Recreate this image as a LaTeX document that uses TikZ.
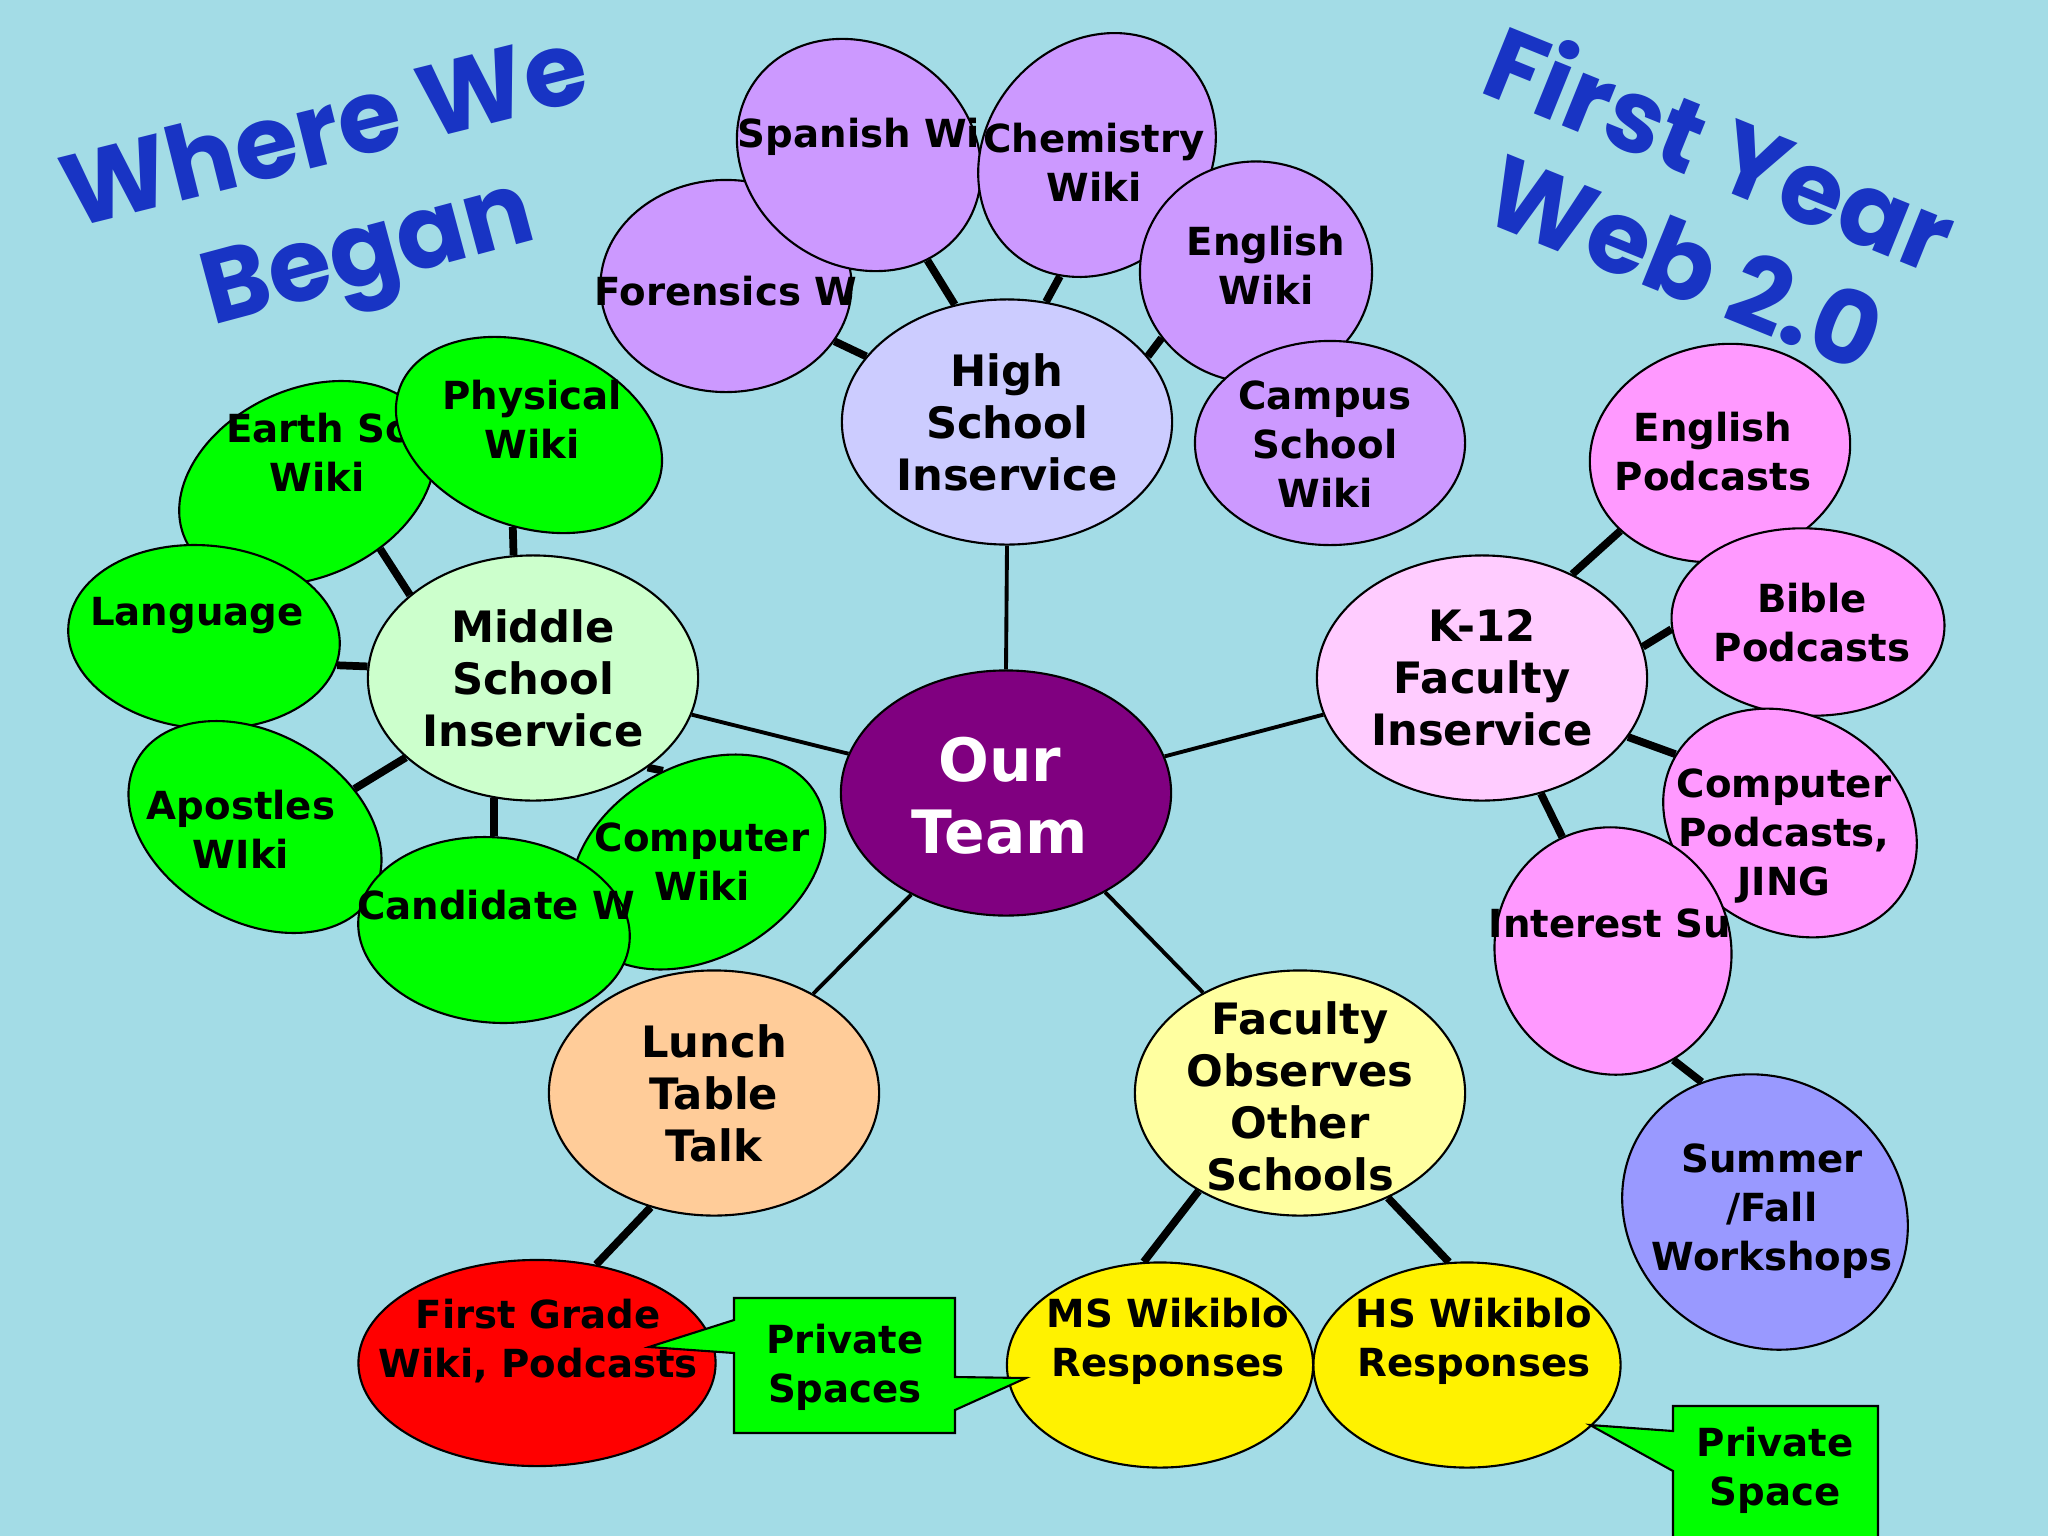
\documentclass[tikz,border=0pt]{standalone}
\usepackage{fontspec}
\setmainfont{DejaVu Sans}
\newfontfamily\titlefont{Poppins}
\usetikzlibrary{shapes.geometric}

\definecolor{water}{RGB}{163,220,230}
\definecolor{titleblue}{RGB}{24,52,196}
\definecolor{teampurple}{RGB}{128,0,128}
\definecolor{hslight}{RGB}{204,204,255}
\definecolor{hsviolet}{RGB}{204,153,255}
\definecolor{mslight}{RGB}{204,255,204}
\definecolor{msgreen}{RGB}{0,255,0}
\definecolor{klight}{RGB}{255,204,255}
\definecolor{kpink}{RGB}{255,153,255}
\definecolor{periwinkle}{RGB}{153,153,255}
\definecolor{peach}{RGB}{255,204,153}
\definecolor{paleyellow}{RGB}{255,255,160}

\pgfdeclarelayer{background}
\pgfsetlayers{background,main}

\begin{document}
\begin{tikzpicture}[x=0.01cm, y=-0.01cm,
        bub/.style={ellipse, draw=black, line width=0.6pt, inner sep=0pt},
        mainbub/.style={bub, minimum width=3.3cm, minimum height=2.45cm},
        hssat/.style={bub, fill=hsviolet},
        mssat/.style={bub, fill=msgreen},
        ksat/.style={bub, fill=kpink},
        lbl/.style={align=center, inner sep=0pt, font=\fontsize{11}{13.9}\selectfont\bfseries},
        mainlbl/.style={lbl, font=\fontsize{12.3}{14.8}\selectfont\bfseries},
        link/.style={line width=1.1pt},
        stub/.style={line width=2.2pt},
        callout/.style={fill=msgreen, draw=black, line width=0.6pt},
        titletxt/.style={text=titleblue, inner sep=0pt, font=\titlefont\bfseries\fontsize{29}{31}\selectfont}
    ]
        \useasboundingbox (0,0) rectangle (2048,1536);
        \begin{pgfonlayer}{background}
            \fill[water] (0,0) rectangle (2048,1536);
        \end{pgfonlayer}
        \clip (0,0) rectangle (2048,1536);

        % High school wikis
        \node[hssat, minimum width=2.51cm, minimum height=2.12cm] (forensics) at (726,286) {};
        \node[lbl] (forensicst) at (726,291) {Forensics W};
        \node[hssat, minimum width=2.55cm, minimum height=2.2cm, rotate=-35] (spanish) at (859,155) {};
        \node[lbl] (spanisht) at (859,137) {Spanish Wi};
        \node[hssat, minimum width=2.58cm, minimum height=2.22cm, rotate=50] (chem) at (1097,155) {};
        \node[lbl] (chemt) at (1094,162) {Chemistry\\Wiki};
        \node[hssat, minimum width=2.32cm, minimum height=2.21cm] (engwiki) at (1256,272) {};
        \node[lbl] (engwikit) at (1266,265) {English\\Wiki};
        \node[hssat, minimum width=2.7cm, minimum height=2.04cm] (campus) at (1330,443) {};
        \node[lbl] (campust) at (1325,444) {Campus\\School\\Wiki};
        \node[mainbub, fill=hslight] (hs) at (1007,422) {};
        \node[mainlbl] (hst) at (hs) {High\\School\\Inservice};

        % Middle school wikis
        \node[mssat, minimum width=2.68cm, minimum height=1.87cm, rotate=25] (earth) at (307,483) {};
        \node[lbl] (eartht) at (317,452) {Earth Sc\\Wiki};
        \node[mssat, minimum width=2.75cm, minimum height=1.83cm, rotate=-20] (phys) at (529,435) {};
        \node[lbl] (physt) at (532,419) {Physical\\Wiki};
        \node[mssat, minimum width=2.72cm, minimum height=1.83cm, rotate=-5] (lang) at (204,637) {};
        \node[lbl] (langt) at (197,616) {Language};
        \node[mssat, minimum width=2.71cm, minimum height=1.88cm, rotate=-30] (apostles) at (255,827) {};
        \node[lbl] (apostlest) at (241,829) {Apostles\\WIki};
        \node[mssat, minimum width=2.72cm, minimum height=1.92cm, rotate=30] (compwiki) at (698,862) {};
        \node[lbl] (compwikit) at (702,862) {Computer\\Wiki};
        \node[mssat, minimum width=2.72cm, minimum height=1.85cm, rotate=-5] (cand) at (494,930) {};
        \node[lbl] (candt) at (496,905) {Candidate W};
        \node[mainbub, fill=mslight] (ms) at (533,678) {};
        \node[mainlbl] (mst) at (ms) {Middle\\School\\Inservice};

        % K-12 podcasts
        \node[ksat, minimum width=2.62cm, minimum height=2.16cm, rotate=12] (engpod) at (1720,453) {};
        \node[lbl] (engpodt) at (1713,452) {English\\Podcasts};
        \node[ksat, minimum width=2.73cm, minimum height=1.87cm, rotate=-3] (bible) at (1808,622) {};
        \node[lbl] (biblet) at (1812,623) {Bible\\Podcasts};
        \node[ksat, minimum width=2.65cm, minimum height=2.15cm, rotate=-30] (comppod) at (1790,823) {};
        \node[lbl] (comppodt) at (1784,836) {Computer\\Podcasts,\\JING};
        \node[ksat, minimum width=2.36cm, minimum height=2.48cm, rotate=15] (interest) at (1613,951) {};
        \node[lbl] (interestt) at (1610,923) {Interest Su};
        \node[bub, fill=periwinkle, minimum width=2.95cm, minimum height=2.65cm, rotate=-35] (summer) at (1765,1212) {};
        \node[lbl] (summert) at (1772,1211) {Summer\\/Fall\\Workshops};
        \node[mainbub, fill=klight] (k12) at (1482,678) {};
        \node[mainlbl] (k12t) at (k12) {K-12\\Faculty\\Inservice};

        % Centre and lower branches
        \node[mainbub, fill=teampurple] (team) at (1006,793) {};
        \node[lbl, text=white, font=\fontsize{17}{20.5}\selectfont\bfseries] (teamt) at (1000,796) {Our\\Team};
        \node[mainbub, fill=peach] (lunch) at (714,1093) {};
        \node[mainlbl] (luncht) at (lunch) {Lunch\\Table\\Talk};
        \node[mainbub, fill=paleyellow] (fac) at (1300,1093) {};
        \node[mainlbl] (fact) at (1300,1096) {Faculty\\Observes\\Other\\Schools};
        \node[bub, fill=red, minimum width=3.57cm, minimum height=2.06cm] (first) at (537,1363) {};
        \node[lbl] (firstt) at (538,1341) {First Grade\\Wiki, Podcasts};
        \node[bub, fill=yellow, minimum width=3.06cm, minimum height=2.05cm] (msresp) at (1160,1365) {};
        \node[lbl] (msrespt) at (1168,1341) {MS Wikiblo\\Responses};
        \node[bub, fill=yellow, minimum width=3.07cm, minimum height=2.05cm] (hsresp) at (1467,1365) {};
        \node[lbl] (hsrespt) at (1474,1341) {HS Wikiblo\\Responses};

        % Callouts
        \coordinate (tipfirst) at (649,1347);
        \coordinate (tipms) at (1026,1378);
        \coordinate (tiphs) at (1590,1425);
        \draw[callout] (734,1298) -- (955,1298) -- (955,1377) -- (tipms) -- (955,1410)
            -- (955,1433) -- (734,1433) -- (734,1353) -- (tipfirst) -- (734,1320) -- cycle;
        \node[lbl] (privspaces) at (845,1367) {Private\\Spaces};
        \draw[callout] (1673,1406) -- (1878,1406) -- (1878,1560) -- (1673,1560)
            -- (1673,1471) -- (tiphs) -- (1673,1431) -- cycle;
        \node[lbl] (privspace) at (1775,1470) {Private\\Space};

        % Connections
        \begin{pgfonlayer}{background}
            \draw[link] (hs.270) -- (team.90);
            \draw[link] (ms.347) -- (team.166);
            \draw[link] (k12.193) -- (team.13);
            \draw[link] (lunch.45) -- (team.227);
            \draw[link] (fac.134) -- (team.315);
            \draw[stub] (lunch.241) -- (first.59);
            \draw[stub] (fac.224) -- (msresp.99);
            \draw[stub] (fac.310) -- (hsresp.100);
            \draw[stub] (forensics.333) -- (hs.155);
            \draw[stub] (spanish.338) -- (hs.114);
            \draw[stub] (chem.203) -- (hs.72);
            \draw[stub] (engwiki.215) -- (hs.25);
            \draw[stub] (phys.280) -- (ms.99);
            \draw[stub] (earth.293) -- (ms.146);
            \draw[stub] (lang.353) -- (ms.176);
            \draw[stub] (apostles.51) -- (ms.212);
            \draw[stub] (cand.95) -- (ms.252);
            \draw[stub] (compwiki.81) -- (ms.322);
            \draw[stub] (engpod.206) -- (k12.49);
            \draw[stub] (bible.186) -- (k12.11);
            \draw[stub] (comppod.179) -- (k12.338);
            \draw[stub] (interest.99) -- (k12.297);
            \draw[stub] (summer.151) -- (interest.284);
        \end{pgfonlayer}

        % Titles
        \node[titletxt, rotate=14] (wherewe) at (324,127) {Where We};
        \node[titletxt, rotate=15] (began) at (370,261) {Began};
        \node[titletxt, rotate=-22] (firstyear) at (1721,146) {First Year};
        \node[titletxt, rotate=-22] (web) at (1685,262) {Web 2.0};
    \end{tikzpicture}
\end{document}
